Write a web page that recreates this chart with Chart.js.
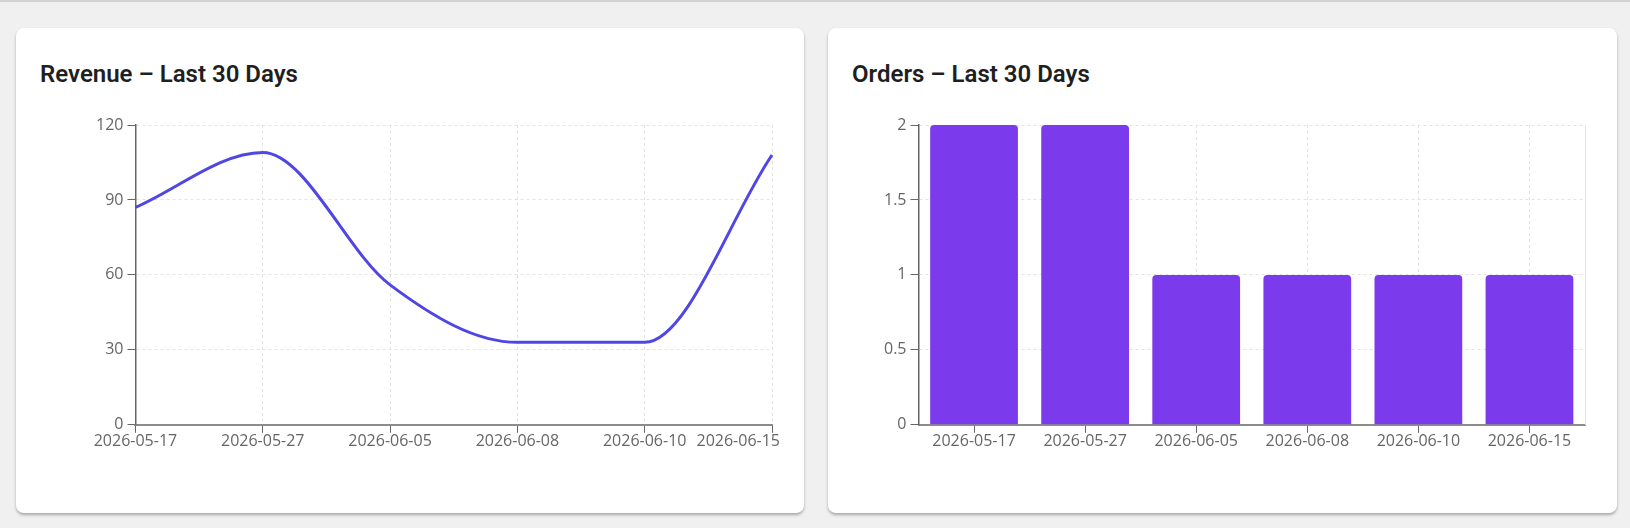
<!DOCTYPE html>
<html>
<head>
  <meta charset="utf-8">
  <title>Sales dashboard</title>
  <script src="https://cdn.jsdelivr.net/npm/chart.js@4.4.1/dist/chart.umd.min.js"></script>
  <style>
    html, body { margin: 0; padding: 0; }
    body {
      background: #f0f0f0;
      border-top: 2px solid #d2d2d2;
      width: 1630px;
      height: 526px;
      overflow: hidden;
    }
    .row { display: flex; gap: 24px; padding: 26px 0 0 16px; }
    .card {
      box-sizing: border-box;
      width: 788px;
      height: 485px;
      background: #fff;
      border-radius: 8px;
      box-shadow: 0 2px 3px rgba(0, 0, 0, 0.3);
      padding: 32px 24px 0 24px;
    }
    .card + .card { width: 789px; }
    .card h3 {
      margin: 0;
      font-family: Roboto, sans-serif;
      font-weight: 600;
      font-size: 24px;
      line-height: 28px;
      color: #1f1f1f;
    }
    .chart-box { position: relative; height: 380px; margin-top: 11px; }
  </style>
</head>
<body>
  <div class="row">
    <div class="card">
      <h3>Revenue – Last 30 Days</h3>
      <div class="chart-box"><canvas id="revenueChart"></canvas></div>
    </div>
    <div class="card">
      <h3>Orders – Last 30 Days</h3>
      <div class="chart-box"><canvas id="ordersChart"></canvas></div>
    </div>
  </div>

  <script>
    // data
    const dates = ['2026-05-17', '2026-05-27', '2026-06-05', '2026-06-08', '2026-06-10', '2026-06-15'];
    const revenue = [87, 109, 56, 33, 33, 108];
    const orders = [2, 2, 1, 1, 1, 1];
    const revenueTicks = [0, 30, 60, 90, 120];
    const orderTicks = [0, 0.5, 1, 1.5, 2];

    Chart.defaults.font.family = "'Open Sans', sans-serif";
    Chart.defaults.font.size = 16;
    Chart.defaults.color = '#666';
    Chart.defaults.animation = false;

    var gridColor = '#e3e3e3';

    // keep edge tick labels inside the canvas instead of growing the padding
    var fitEdgeLabels = {
      id: 'fitEdgeLabels',
      beforeDraw: function(chart) {
        var scale = chart.scales.x;
        var ctx = chart.ctx;
        scale.getLabelItems(chart.chartArea).forEach(function(item) {
          ctx.save();
          ctx.font = item.font.string;
          var w = ctx.measureText(item.label).width;
          ctx.restore();
          var x = item.options.translation[0];
          var over = x + w / 2 - chart.width;
          if (over > 0) item.options.translation[0] = x - over;
        });
      }
    };

    function yAxis(ticks) {
      return {
        min: ticks[0],
        max: ticks[ticks.length - 1],
        afterBuildTicks: function(scale) {
          scale.ticks = ticks.map(function(v) { return { value: v }; });
        },
        ticks: { padding: 4, callback: function(v) { return String(v); } },
        grid: { color: gridColor, tickColor: '#666', tickLength: 8 },
        border: { color: '#666', width: 1.5, dash: [3, 3] }
      };
    }

    new Chart(document.getElementById('revenueChart'), {
      type: 'line',
      data: {
        labels: dates,
        datasets: [{
          label: 'Revenue',
          data: revenue,
          borderColor: '#4f46e5',
          borderWidth: 3,
          pointRadius: 0,
          cubicInterpolationMode: 'monotone',
          fill: false
        }]
      },
      options: {
        responsive: true,
        maintainAspectRatio: false,
        layout: { padding: { left: 52, right: 8, top: 26, bottom: 29 } },
        plugins: { legend: { display: false }, tooltip: { enabled: false } },
        scales: {
          x: {
            ticks: { padding: -1, maxRotation: 0, autoSkip: false },
            grid: { color: gridColor, tickColor: '#666', tickLength: 8 },
            border: { color: '#8c8c8c', width: 2, dash: [3, 3] },
            afterFit: function(scale) { scale.paddingLeft = 0; scale.paddingRight = 0; }
          },
          y: yAxis(revenueTicks)
        }
      },
      plugins: [fitEdgeLabels]
    });

    new Chart(document.getElementById('ordersChart'), {
      type: 'bar',
      data: {
        labels: dates,
        datasets: [{
          label: 'Orders',
          data: orders,
          backgroundColor: '#7c3aed',
          borderRadius: 4,
          barPercentage: 1,
          categoryPercentage: 0.79
        }]
      },
      options: {
        responsive: true,
        maintainAspectRatio: false,
        layout: { padding: { left: 28, right: 8, top: 26, bottom: 29 } },
        plugins: { legend: { display: false }, tooltip: { enabled: false } },
        scales: {
          x: {
            ticks: { padding: -1, maxRotation: 0, autoSkip: false },
            grid: { offset: false, color: gridColor, tickColor: '#666', tickLength: 8 },
            border: { color: '#8c8c8c', width: 2, dash: [3, 3] }
          },
          y: yAxis(orderTicks),
          edge: {
            position: 'right',
            ticks: { display: false },
            grid: { display: false, drawTicks: false },
            border: { color: gridColor, width: 1 }
          }
        }
      }
    });
  </script>
</body>
</html>
